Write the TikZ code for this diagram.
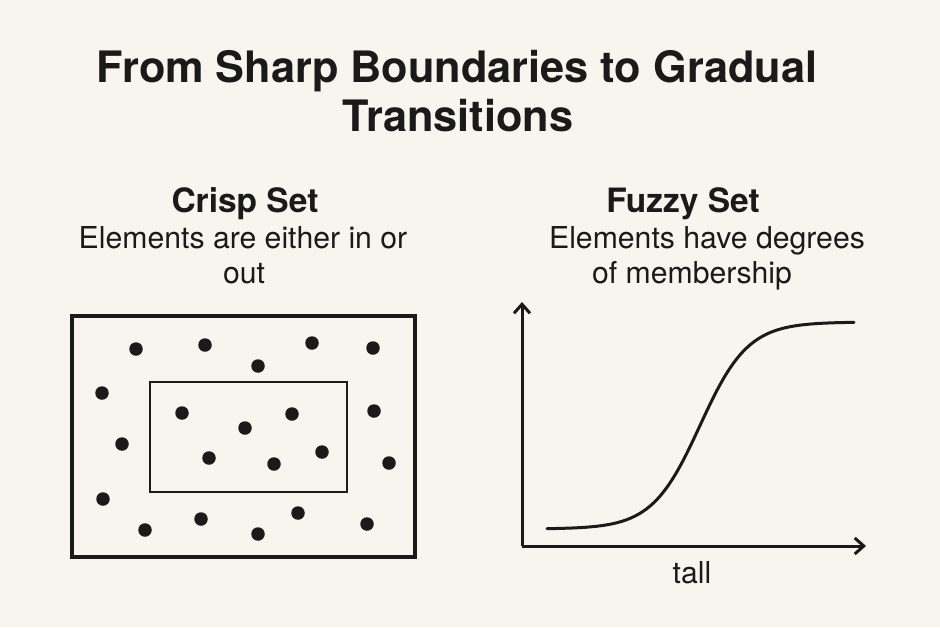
\documentclass[tikz,border=0pt]{standalone}
\usepackage{fontspec}
\setmainfont{TeX Gyre Heros}
\usetikzlibrary{arrows.meta}
\definecolor{bg}{HTML}{F8F4EE}
\definecolor{ink}{HTML}{1A1A1A}
\tikzset{
  dot/.style={circle,fill=ink,inner sep=0pt,minimum size=13.5pt},
  titletxt/.style={font=\fontsize{43.3}{49}\selectfont\bfseries,text=ink,anchor=base},
  headtxt/.style={font=\fontsize{33.5}{35}\selectfont\bfseries,text=ink,anchor=base},
  subtxt/.style={font=\fontsize{30.2}{35}\selectfont,text=ink,anchor=base},
  setbox/.style={draw=ink,line width=3.2pt},
  axis/.style={draw=ink,line width=3pt,-{Straight Barb[length=9pt,width=16pt]}},
}
\begin{document}
\begin{tikzpicture}[x=1pt,y=-1pt]
\fill[bg] (0,0) rectangle (940,627);
\useasboundingbox (0,0) rectangle (940,627);
% title
\node[titletxt] (t1) at (457,82) {From Sharp Boundaries to Gradual};
\node[titletxt] (t2) at (458,131) {Transitions};
% headings
\node[headtxt] (h1) at (245,212) {Crisp Set};
\node[subtxt] (s1a) at (243,248) {Elements are either in or};
\node[subtxt] (s1b) at (244,283) {out};
\node[headtxt] (h2) at (683,212) {Fuzzy Set};
\node[subtxt] (s2a) at (707,248) {Elements have degrees};
\node[subtxt] (s2b) at (692,283) {of membership};
% crisp set
\draw[setbox] (72,316) rectangle (415,557);
\draw[setbox,line width=2.8pt] (150,382) rectangle (347,492);
\foreach \n/\x/\y in {1/136/349,2/205/345,3/258/366,4/312/343,5/373/348,
  6/102/393,7/374/411,8/122/444,9/389/463,10/103/499,11/145/530,12/201/519,
  13/258/534,14/298/513,15/367/524,16/182/413,17/245/428,18/292/414,
  19/209/458,20/274/464,21/322/452}
  \node[dot] (d\n) at (\x,\y) {};
% fuzzy set
\coordinate (o) at (522,546);
\coordinate (ytop) at (522,302);
\coordinate (xend) at (866,546);
\draw[axis] (o) -- (ytop);
\draw[axis] (o) -- (xend);
\draw[ink,line width=3pt,line cap=round] plot[domain=547:854,samples=120]
  (\x,{529-207/(1+exp(-(\x-700)/24))});
\node[subtxt] (xl) at (692,583) {tall};
\end{tikzpicture}
\end{document}
